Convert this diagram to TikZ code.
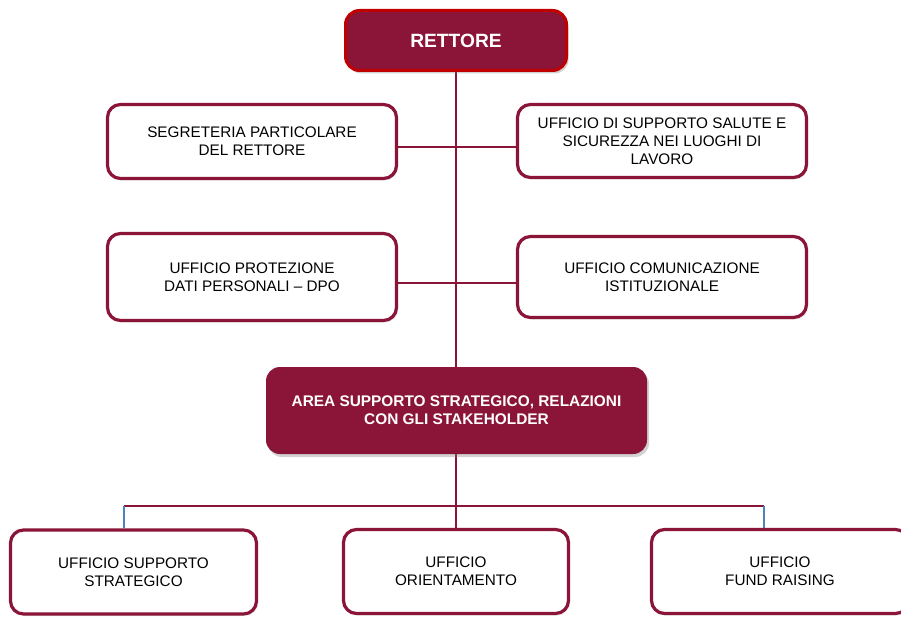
\documentclass[tikz,border=0pt]{standalone}
\usepackage{fontspec}
\setmainfont{Liberation Sans}
\usetikzlibrary{shadows}
\definecolor{maroon}{HTML}{8B1538}
\definecolor{rborder}{HTML}{C00000}
\definecolor{busblue}{HTML}{4F81BD}
\pgfdeclarelayer{bg}
\pgfdeclarelayer{paper}
\pgfsetlayers{paper,bg,main}
\begin{document}
\begin{tikzpicture}[x=1pt,y=-1pt,
  office/.style={draw=maroon, line width=3.2pt, rounded corners=13pt, fill=white,
    align=center, inner sep=0pt, font=\fontsize{15.3}{18}\selectfont,
    drop shadow={opacity=0.18, shadow xshift=1.5pt, shadow yshift=-2pt}},
  headbox/.style={fill=maroon, rounded corners=14pt, text=white, align=center,
    inner sep=0pt, font=\bfseries\fontsize{15.4}{18.3}\selectfont,
    drop shadow={opacity=0.35, shadow xshift=2pt, shadow yshift=-3pt}},
  conn/.style={draw=maroon, line width=2pt},
  blueconn/.style={draw=busblue, line width=1.6pt}]
\clip (0,0) rectangle (901,617);
\begin{pgfonlayer}{paper}
  \fill[white] (0,0) rectangle (901,617);
\end{pgfonlayer}

\node[headbox, draw=rborder, line width=3pt, minimum width=221pt, minimum height=60pt,
  font=\bfseries\fontsize{19.2}{22}\selectfont] (rett) at (456,40.5) {RETTORE};

\node[office, minimum width=289pt, minimum height=74pt] (seg) at (252,141.5)
  {SEGRETERIA PARTICOLARE\\DEL RETTORE};
\node[office, minimum width=289pt, minimum height=73pt] (sal) at (662,141)
  {UFFICIO DI SUPPORTO SALUTE E\\SICUREZZA NEI LUOGHI DI\\LAVORO};
\node[office, minimum width=289pt, minimum height=87pt] (pro) at (252,277)
  {UFFICIO PROTEZIONE\\DATI PERSONALI – DPO};
\node[office, minimum width=289pt, minimum height=81pt] (com) at (662,277)
  {UFFICIO COMUNICAZIONE\\ISTITUZIONALE};

\node[headbox, minimum width=381pt, minimum height=87pt] (area) at (456.5,410.5)
  {AREA SUPPORTO STRATEGICO, RELAZIONI\\CON GLI STAKEHOLDER};

\node[office, minimum width=246pt, minimum height=84pt] (bl) at (133.5,572)
  {UFFICIO SUPPORTO\\STRATEGICO};
\node[office, minimum width=225pt, minimum height=84pt] (bm) at (456,571.5)
  {UFFICIO\\ORIENTAMENTO};
\node[office, minimum width=257pt, minimum height=84pt] (br) at (780,571.5)
  {UFFICIO\\FUND RAISING};

\coordinate (busL) at (124,506);
\coordinate (busR) at (764,506);

\begin{pgfonlayer}{bg}
  \draw[conn] (rett.south) -- (bm.north);
  \draw[conn] ([yshift=-5.5pt]seg.east) -- ([yshift=-6pt]sal.west);
  \draw[conn] ([yshift=-6pt]pro.east) -- ([yshift=-6pt]com.west);
  \draw[conn] (busL) -- (busR);
  \draw[blueconn] (busL) -- (busL |- bl.north);
  \draw[blueconn] (busR) -- (busR |- br.north);
\end{pgfonlayer}
\end{tikzpicture}
\end{document}
